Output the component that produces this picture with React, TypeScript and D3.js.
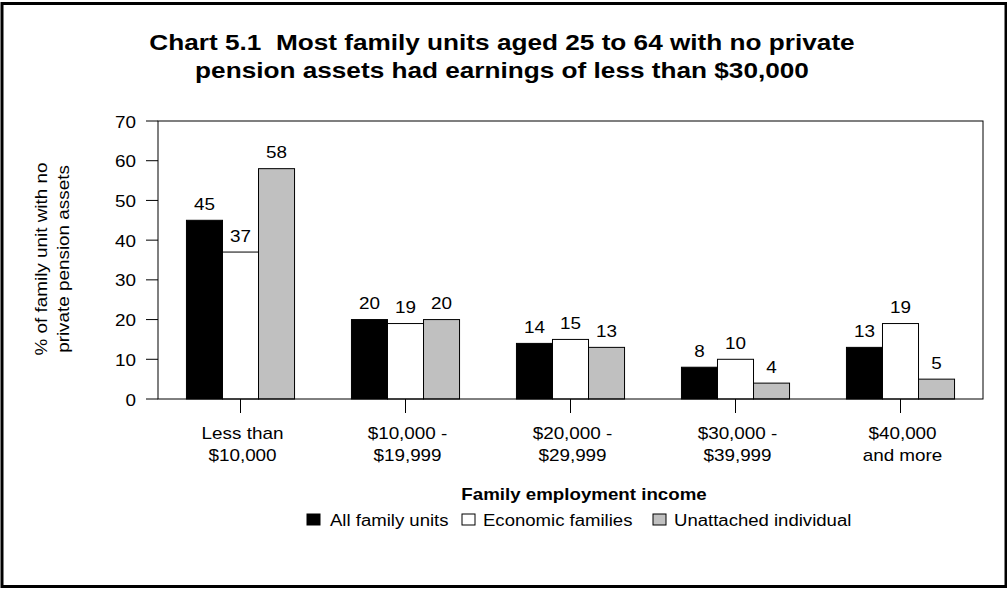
import React from "react";
import * as d3 from "d3";

const categories = ["Less than|$10,000", "$10,000 -|$19,999", "$20,000 -|$29,999", "$30,000 -|$39,999", "$40,000|and more"];
const seriesNames = ["All family units", "Economic families", "Unattached individual"];
const allFamilyUnits = [45, 20, 14, 8, 13];
const economicFamilies = [37, 19, 15, 10, 19];
const unattachedIndividual = [58, 20, 13, 4, 5];
const yTicks = [0, 10, 20, 30, 40, 50, 60, 70];
const titleLines = ["Chart 5.1  Most family units aged 25 to 64 with no private", "pension assets had earnings of less than $30,000"];
const yLabelLines = ["% of family unit with no", "private pension assets"];
const xTitle = "Family employment income";

const seriesValues = [allFamilyUnits, economicFamilies, unattachedIndividual];
const fills = ["#000000", "#ffffff", "#c0c0c0"];

const FONT = "'Liberation Sans', Arial, Helvetica, sans-serif";

function T({ x, y, children, size = 16, sx = 1.18, anchor = "middle", bold = false, rotate = 0 }: any) {
  return (
    <g transform={`translate(${x},${y}) rotate(${rotate}) scale(${sx},1)`}>
      <text x={0} y={0} fontSize={size} fontFamily={FONT} fontWeight={bold ? "bold" : "normal"} textAnchor={anchor} fill="#000" style={{ whiteSpace: "pre" }}>
        {children}
      </text>
    </g>
  );
}

export default function App() {
  const left = 158, right = 983, top = 121, bottom = 399;
  const x = d3.scaleBand<string>().domain(categories).range([left, right]).paddingInner(0).paddingOuter(0);
  const xs = d3.scaleBand<string>().domain(seriesNames).range([0, x.bandwidth()]).paddingInner(0).paddingOuter(0.79);
  const y = d3.scaleLinear().domain([0, 70]).range([bottom, top]);

  const legendItems = [
    { sq: 307, tx: 330 },
    { sq: 462, tx: 483 },
    { sq: 653, tx: 674 },
  ];

  return (
    <svg width={1007} height={589} style={{ position: "absolute", left: 0, top: 0 }}>
      <rect x={0} y={0} width={1007} height={589} fill="#fff" />
      <rect x={2} y={3.5} width={1004} height={583} fill="none" stroke="#000" strokeWidth={3} />

      {titleLines.map((t, i) => (
        <T key={i} x={502} y={50 + i * 27.5} size={22} sx={1.19} bold>{t}</T>
      ))}

      {yTicks.map((v) => (
        <g key={v}>
          <line x1={146} x2={left} y1={y(v)} y2={y(v)} stroke="#000" strokeWidth={1} />
          <T x={136} y={y(v) + 6.5} anchor="end">{v}</T>
        </g>
      ))}

      {categories.map((c, ci) => (
        <g key={c}>
          {seriesNames.map((s, si) => {
            const v = seriesValues[si][ci];
            const bx = (x(c) as number) + (xs(s) as number);
            return (
              <g key={s}>
                <rect x={bx} y={y(v)} width={xs.bandwidth()} height={bottom - y(v)} fill={fills[si]} stroke="#000" strokeWidth={1} />
                <T x={bx + xs.bandwidth() / 2} y={y(v) - 10.5}>{v}</T>
              </g>
            );
          })}
        </g>
      ))}

      <rect x={left} y={top} width={right - left} height={bottom - top} fill="none" stroke="#000" strokeWidth={1} />

      {categories.map((c) => {
        const cx = (x(c) as number) + x.bandwidth() / 2;
        const lines = c.split("|");
        return (
          <g key={c}>
            <line x1={cx} x2={cx} y1={bottom} y2={413} stroke="#000" strokeWidth={1} />
            {lines.map((l, i) => (
              <T key={i} x={cx + 2} y={439 + i * 22}>{l}</T>
            ))}
          </g>
        );
      })}

      {yLabelLines.map((l, i) => (
        <T key={i} x={46.5 + i * 22} y={259} rotate={-90}>{l}</T>
      ))}

      <T x={584} y={500} bold sx={1.17}>{xTitle}</T>

      {seriesNames.map((s, i) => (
        <g key={s}>
          <rect x={legendItems[i].sq} y={514} width={13} height={11} fill={fills[i]} stroke="#000" strokeWidth={1} />
          <T x={legendItems[i].tx} y={526} anchor="start" sx={1.16}>{s}</T>
        </g>
      ))}
    </svg>
  );
}
